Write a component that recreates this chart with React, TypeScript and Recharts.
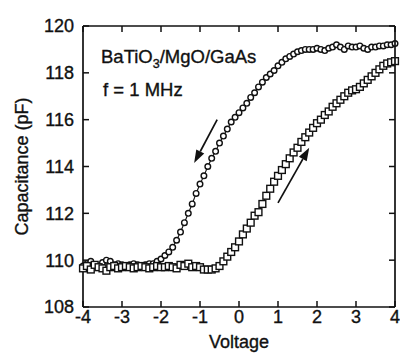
import React from 'react';
import { ComposedChart, Line, XAxis, YAxis, ReferenceLine } from 'recharts';

const voltage: number[] = [
  -4.0, -3.9, -3.8, -3.7, -3.6, -3.5, -3.4, -3.3, -3.2, -3.1,
  -3.0, -2.9, -2.8, -2.7, -2.6, -2.5, -2.4, -2.3, -2.2, -2.1,
  -2.0, -1.9, -1.8, -1.7, -1.6, -1.5, -1.4, -1.3, -1.2, -1.1,
  -1.0, -0.9, -0.8, -0.7, -0.6, -0.5, -0.4, -0.3, -0.2, -0.1,
  0.0, 0.1, 0.2, 0.3, 0.4, 0.5, 0.6, 0.7, 0.8, 0.9,
  1.0, 1.1, 1.2, 1.3, 1.4, 1.5, 1.6, 1.7, 1.8, 1.9,
  2.0, 2.1, 2.2, 2.3, 2.4, 2.5, 2.6, 2.7, 2.8, 2.9,
  3.0, 3.1, 3.2, 3.3, 3.4, 3.5, 3.6, 3.7, 3.8, 3.9,
  4.0,
];

// downward sweep (circles)
const capDown: number[] = [
  109.75, 109.85, 109.95, 109.8, 109.75, 109.9, 110.0, 109.95, 109.8, 109.85,
  109.8, 109.75, 109.8, 109.85, 109.8, 109.75, 109.8, 109.85, 109.85, 109.95,
  110.05, 110.2, 110.35, 110.55, 110.85, 111.2, 111.6, 112.0, 112.4, 112.85,
  113.25, 113.6, 114.0, 114.35, 114.65, 115.0, 115.3, 115.6, 115.9, 116.1,
  116.3, 116.5, 116.7, 116.95, 117.15, 117.4, 117.6, 117.8, 117.95, 118.1,
  118.3, 118.45, 118.6, 118.7, 118.8, 118.9, 118.95, 119.0, 119.0, 119.0,
  119.05, 119.0, 118.95, 119.05, 119.1, 119.2, 119.1, 119.0, 119.15, 119.1,
  119.1, 119.15, 119.05, 119.0, 119.1, 119.1, 119.15, 119.15, 119.2, 119.2,
  119.25,
];

// upward sweep (squares)
const capUp: number[] = [
  109.65, 109.75, 109.6, 109.8, 109.7, 109.65, 109.55, 109.7, 109.75, 109.65,
  109.7, 109.75, 109.7, 109.65, 109.7, 109.75, 109.7, 109.65, 109.7, 109.75,
  109.7, 109.7, 109.75, 109.7, 109.65, 109.8, 109.75, 109.85, 109.7, 109.75,
  109.7, 109.6, 109.6, 109.6, 109.65, 109.75, 109.95, 110.15, 110.35, 110.55,
  110.8, 111.1, 111.35, 111.6, 111.9, 112.05, 112.4, 112.75, 113.05, 113.35,
  113.6, 113.85, 114.1, 114.35, 114.6, 114.8, 115.05, 115.25, 115.45, 115.65,
  115.85, 116.0, 116.2, 116.35, 116.55, 116.7, 116.85, 117.0, 117.15, 117.25,
  117.3, 117.4, 117.55, 117.7, 117.85, 118.0, 118.15, 118.3, 118.4, 118.45,
  118.5,
];

const xTicks: number[] = [-4, -3, -2, -1, 0, 1, 2, 3, 4];
const yTicks: number[] = [108, 110, 112, 114, 116, 118, 120];
const X_DOMAIN: [number, number] = [-4, 4];
const Y_DOMAIN: [number, number] = [108, 120];

// arrows: start -> tip
const arrowDown = [{ x: -0.56, y: 116.0 }, { x: -1.15, y: 114.15 }];
const arrowUp = [{ x: 1.0, y: 112.45 }, { x: 1.8, y: 114.8 }];

const data = voltage.map((v, i) => ({ v, down: capDown[i], up: capUp[i] }));

const W = 400;
const H = 354;
const MARGIN = { top: 26, right: 5, left: 0, bottom: 0 };
const Y_AXIS_W = 83;
const X_AXIS_H = 47;
// plot box derived from the chart layout above
const PLOT = {
  left: MARGIN.left + Y_AXIS_W,
  right: W - MARGIN.right,
  top: MARGIN.top,
  bottom: H - X_AXIS_H - MARGIN.bottom,
};

const FONT = '"Liberation Sans", Arial, Helvetica, sans-serif';
const TXT = { fill: '#111', fontSize: 18, fontFamily: FONT, stroke: '#111', strokeWidth: 0.35 };
const AXIS_LINE = { stroke: '#111', strokeWidth: 1.7 };
const TICK_LINE = { stroke: '#111', strokeWidth: 1.5 };
const TICK_LEN = 6;

const CircleDot = (props: any) => {
  const { cx, cy } = props;
  if (cx == null || cy == null) return <g />;
  return <circle cx={cx} cy={cy} r={2.8} fill="#fff" stroke="#111" strokeWidth={1.4} />;
};

const SquareDot = (props: any) => {
  const { cx, cy } = props;
  if (cx == null || cy == null) return <g />;
  return <rect x={cx - 3.4} y={cy - 3.4} width={6.8} height={6.8} fill="#fff" stroke="#111" strokeWidth={1.4} />;
};

const ArrowShape = (props: any) => {
  const { x1, y1, x2, y2 } = props;
  if ([x1, y1, x2, y2].some((n) => n == null || isNaN(n))) return <g />;
  const dx = x2 - x1;
  const dy = y2 - y1;
  const len = Math.sqrt(dx * dx + dy * dy);
  const ux = dx / len;
  const uy = dy / len;
  const hl = 13;
  const hw = 4.5;
  const bx = x2 - ux * hl;
  const by = y2 - uy * hl;
  const px = -uy;
  const py = ux;
  const pts = `${x2},${y2} ${bx + px * hw},${by + py * hw} ${bx - px * hw},${by - py * hw}`;
  return (
    <g>
      <line x1={x1} y1={y1} x2={bx} y2={by} stroke="#111" strokeWidth={1.7} />
      <polygon points={pts} fill="#111" />
    </g>
  );
};

// top and right frame edges with inward ticks, overlaid on the chart
const Frame = () => {
  const sx = (v: number) => PLOT.left + ((v - X_DOMAIN[0]) / (X_DOMAIN[1] - X_DOMAIN[0])) * (PLOT.right - PLOT.left);
  const sy = (v: number) => PLOT.bottom - ((v - Y_DOMAIN[0]) / (Y_DOMAIN[1] - Y_DOMAIN[0])) * (PLOT.bottom - PLOT.top);
  return (
    <svg
      width={W}
      height={H}
      style={{ position: 'absolute', left: 0, top: 0, pointerEvents: 'none' }}
    >
      <line x1={PLOT.left} y1={PLOT.top} x2={PLOT.right} y2={PLOT.top} stroke="#111" strokeWidth={1.7} />
      <line x1={PLOT.right} y1={PLOT.top} x2={PLOT.right} y2={PLOT.bottom} stroke="#111" strokeWidth={1.7} />
      {xTicks.map((t) => (
        <line key={`x${t}`} x1={sx(t)} y1={PLOT.top} x2={sx(t)} y2={PLOT.top + TICK_LEN} stroke="#111" strokeWidth={1.5} />
      ))}
      {yTicks.map((t) => (
        <line key={`y${t}`} x1={PLOT.right} y1={sy(t)} x2={PLOT.right - TICK_LEN} y2={sy(t)} stroke="#111" strokeWidth={1.5} />
      ))}
    </svg>
  );
};

export default function App() {
  return (
    <div style={{ position: 'absolute', left: 0, top: 0, width: W, height: H, background: '#fff' }}>
      <ComposedChart width={W} height={H} data={data} margin={MARGIN}>
        <XAxis
          dataKey="v"
          type="number"
          domain={X_DOMAIN}
          ticks={xTicks}
          height={X_AXIS_H}
          tickSize={-6}
          tickMargin={9}
          axisLine={AXIS_LINE}
          tickLine={TICK_LINE}
          tick={TXT}
          label={{ value: 'Voltage', position: 'insideBottom', offset: 6, ...TXT }}
        />
        <YAxis
          type="number"
          domain={Y_DOMAIN}
          ticks={yTicks}
          width={Y_AXIS_W}
          tickSize={-6}
          tickMargin={15}
          axisLine={AXIS_LINE}
          tickLine={TICK_LINE}
          tick={TXT}
          label={{
            value: 'Capacitance (pF)',
            angle: -90,
            position: 'insideLeft',
            offset: 22,
            ...TXT,
            style: { textAnchor: 'middle' },
          }}
        />
        <Line
          dataKey="down"
          stroke="#111"
          strokeWidth={1.1}
          dot={<CircleDot />}
          isAnimationActive={false}
        />
        <Line
          dataKey="up"
          stroke="#111"
          strokeWidth={1.1}
          dot={<SquareDot />}
          isAnimationActive={false}
        />
        <ReferenceLine segment={arrowDown} shape={ArrowShape} ifOverflow="visible" />
        <ReferenceLine segment={arrowUp} shape={ArrowShape} ifOverflow="visible" />
      </ComposedChart>
      <Frame />
      <div
        style={{
          position: 'absolute',
          left: 101,
          top: 47,
          fontFamily: FONT,
          fontSize: 18.5,
          color: '#111',
          lineHeight: '20px',
          whiteSpace: 'nowrap',
          WebkitTextStroke: '0.35px #111',
        }}
      >
        BaTiO<sub style={{ fontSize: 12.5, verticalAlign: '-5px', lineHeight: 0 }}>3</sub>/MgO/GaAs
      </div>
      <div
        style={{
          position: 'absolute',
          left: 103,
          top: 80,
          fontFamily: FONT,
          fontSize: 18.5,
          color: '#111',
          lineHeight: '20px',
          whiteSpace: 'nowrap',
          WebkitTextStroke: '0.35px #111',
        }}
      >
        f = 1 MHz
      </div>
    </div>
  );
}
